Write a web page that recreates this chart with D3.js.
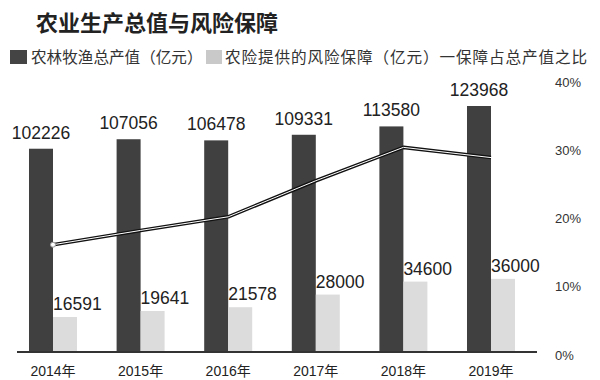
<!DOCTYPE html>
<html><head><meta charset="utf-8">
<script src="https://cdn.jsdelivr.net/npm/d3@7/dist/d3.min.js"></script>
<style>
html,body{margin:0;padding:0;background:#fff;}
svg{display:block;font-family:"Liberation Sans","Noto Sans CJK SC",sans-serif;}
</style></head>
<body>
<svg id="c" width="600" height="380"></svg>
<script>
const years = ["2014年","2015年","2016年","2017年","2018年","2019年"];
const outputValues = [102226,107056,106478,109331,113580,123968];
const coverageValues = [16591,19641,21578,28000,34600,36000];
const ratioValues = [16.2,18.3,20.3,25.6,30.5,29.0];
const pctTicks = [0,10,20,30,40];
const title = "农业生产总值与风险保障";
const legendLabels = ["农林牧渔总产值（亿元）","农险提供的风险保障（亿元）","一保障占总产值之比"];

const svg = d3.select("#c");
const baseY = 352;
const x = d3.scaleBand().domain(years).range([9.2, 534.8]).paddingInner(0.452).paddingOuter(0.226);
const bw = x.bandwidth()/2;
const y = d3.scaleLinear().domain([0,130000]).range([349.6, 94.15]);
const yp = d3.scaleLinear().domain([0,40]).range([355, 82.7]);

// title
svg.append("text").attr("x",36).attr("y",31).attr("font-size",22).attr("font-weight","bold")
  .attr("fill","#222").attr("font-family","'Noto Sans CJK SC',sans-serif").text(title);

// legend
const lg = svg.append("g").attr("font-family","'Noto Sans CJK SC',sans-serif").attr("font-size",15.6).attr("fill","#333");
lg.append("rect").attr("x",10).attr("y",50).attr("width",17).attr("height",14).attr("fill","#444");
lg.append("text").attr("x",31).attr("y",63).text(legendLabels[0]);
lg.append("rect").attr("x",206).attr("y",50).attr("width",16).attr("height",14).attr("fill","#c9c9c9");
lg.append("text").attr("x",225).attr("y",63).attr("textLength",362).attr("lengthAdjust","spacing").text(legendLabels[1]+legendLabels[2]);

// bars
const g = svg.append("g");
g.selectAll(".d").data(years).join("rect")
  .attr("x",d=>x(d)).attr("width",bw)
  .attr("y",(d,i)=>y(outputValues[i])).attr("height",(d,i)=>baseY-y(outputValues[i]))
  .attr("fill","#404040");
g.selectAll(".l").data(years).join("rect")
  .attr("x",d=>x(d)+bw).attr("width",bw)
  .attr("y",(d,i)=>y(coverageValues[i])).attr("height",(d,i)=>baseY-y(coverageValues[i]))
  .attr("fill","#dcdcdc");

// value labels
g.selectAll(".dl").data(years).join("text")
  .attr("x",d=>x(d)+bw/2).attr("y",(d,i)=>y(outputValues[i])-10)
  .attr("text-anchor","middle").attr("font-size",17.5).attr("fill","#222")
  .text((d,i)=>outputValues[i]);
g.selectAll(".ll").data(years).join("text")
  .attr("x",d=>x(d)+bw).attr("y",(d,i)=>y(coverageValues[i])-7)
  .attr("text-anchor","start").attr("font-size",17.5).attr("fill","#222")
  .text((d,i)=>coverageValues[i]);

// baseline axis
svg.append("line").attr("x1",17).attr("x2",537).attr("y1",baseY).attr("y2",baseY)
  .attr("stroke","#333").attr("stroke-width",2);

// year labels
svg.selectAll(".yl").data(years).join("text")
  .attr("x",d=>x(d)+x.bandwidth()/2).attr("y",376)
  .attr("text-anchor","middle").attr("font-size",14).attr("fill","#222").text(d=>d);

// right axis labels
svg.selectAll(".pl").data(pctTicks).join("text")
  .attr("x",555).attr("y",d=>yp(d)).attr("dy","0.35em")
  .attr("font-size",13).attr("fill","#333").text(d=>d+"%");

// line
const line = d3.line().x((d,i)=>x(years[i])+bw).y(d=>yp(d));
svg.append("path").datum(ratioValues).attr("d",line).attr("fill","none")
  .attr("stroke","#111").attr("stroke-width",3.6).attr("stroke-linejoin","round");
svg.append("path").datum(ratioValues).attr("d",line).attr("fill","none")
  .attr("stroke","#fff").attr("stroke-width",1).attr("stroke-linejoin","round");
svg.append("circle").attr("cx",x(years[0])+bw).attr("cy",yp(ratioValues[0])).attr("r",2.5)
  .attr("fill","#fff").attr("stroke","#999").attr("stroke-width",1);
</script>
</body></html>
